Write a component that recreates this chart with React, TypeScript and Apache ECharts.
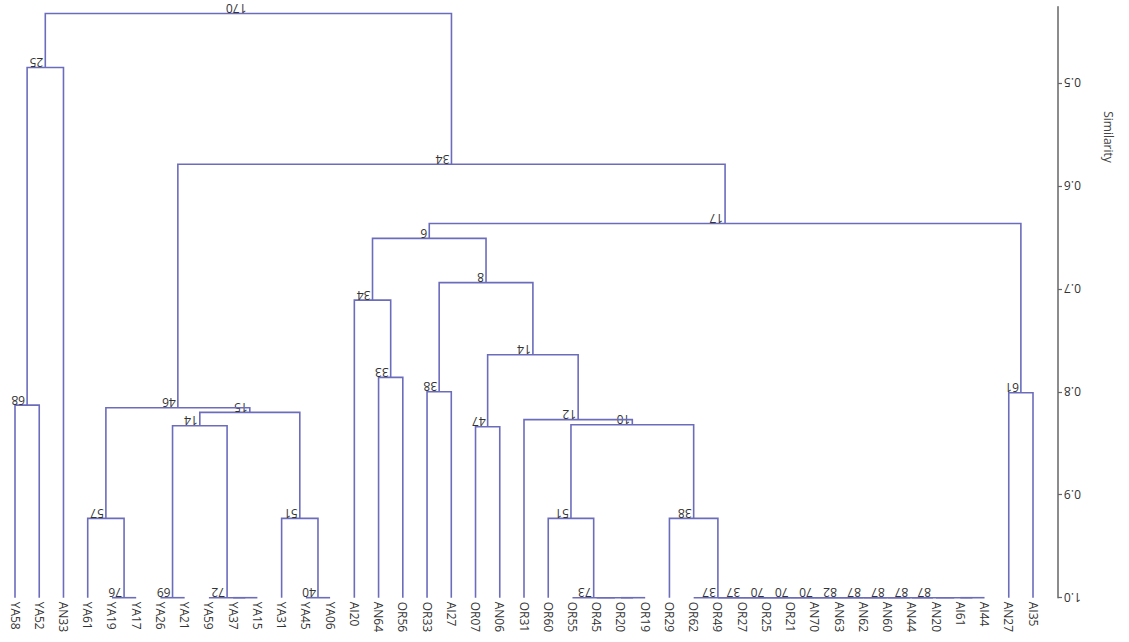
import React, { useEffect, useRef } from "react";
import * as echarts from "echarts";

// Leaf order (bottom tick labels)
const leaves: string[] = [
  "YA58", "YA52", "AN33", "YA61", "YA19", "YA17", "YA26", "YA21", "YA59", "YA37",
  "YA15", "YA31", "YA45", "YA06", "AI20", "AN64", "OR56", "OR33", "AI27", "OR07",
  "AN06", "OR31", "OR60", "OR55", "OR45", "OR20", "OR19", "OR29", "OR62", "OR49",
  "OR27", "OR25", "OR21", "AN70", "AN63", "AN62", "AN60", "AN44", "AN20", "AI61",
  "AI44", "AN27", "AI35",
];

// Merges: [node id, left child, right child, similarity, bootstrap label]
const merges: [string, string, string, number, string][] = [
  ["n1", "YA58", "YA52", 0.813, "68"],
  ["n2", "n1", "AN33", 0.485, "25"],
  ["n3", "YA19", "YA17", 1.0, "76"],
  ["n4", "YA61", "n3", 0.923, "57"],
  ["n5", "YA26", "YA21", 1.0, "69"],
  ["n6", "YA37", "YA15", 1.0, ""],
  ["n7", "YA59", "n6", 1.0, "72"],
  ["n8", "n5", "n7", 0.833, "14"],
  ["n9", "YA45", "YA06", 1.0, "40"],
  ["n10", "YA31", "n9", 0.923, "51"],
  ["n11", "n8", "n10", 0.82, "15"],
  ["n12", "n4", "n11", 0.8155, "46"],
  ["n13", "AN64", "OR56", 0.786, "33"],
  ["n14", "AI20", "n13", 0.711, "34"],
  ["n15", "OR33", "AI27", 0.8, "38"],
  ["n16", "OR07", "AN06", 0.834, "47"],
  ["n17", "OR20", "OR19", 1.0, ""],
  ["n18", "OR45", "n17", 1.0, ""],
  ["n19", "OR55", "n18", 1.0, "73"],
  ["n20", "OR60", "n19", 0.923, "51"],
  ["c12", "AI61", "AI44", 1.0, ""],
  ["c11", "AN20", "c12", 1.0, ""],
  ["c10", "AN44", "c11", 1.0, "87"],
  ["c9", "AN60", "c10", 1.0, "87"],
  ["c8", "AN62", "c9", 1.0, "87"],
  ["c7", "AN63", "c8", 1.0, "87"],
  ["c6", "AN70", "c7", 1.0, "82"],
  ["c5", "OR21", "c6", 1.0, "70"],
  ["c4", "OR25", "c5", 1.0, "70"],
  ["c3", "OR27", "c4", 1.0, "70"],
  ["c2", "OR49", "c3", 1.0, "37"],
  ["c1", "OR62", "c2", 1.0, "37"],
  ["n21", "OR29", "c1", 0.923, "38"],
  ["n22", "n20", "n21", 0.832, "10"],
  ["n23", "OR31", "n22", 0.827, "12"],
  ["n24", "n16", "n23", 0.764, "14"],
  ["n25", "n15", "n24", 0.694, "8"],
  ["n26", "n14", "n25", 0.651, "6"],
  ["n27", "AN27", "AI35", 0.801, "61"],
  ["n28", "n26", "n27", 0.6365, "17"],
  ["n29", "n12", "n28", 0.579, "34"],
  ["n30", "n2", "n29", 0.4326, "170"],
];

const yTicks: number[] = [0.5, 0.6, 0.7, 0.8, 0.9, 1.0];
const yMin = 0.426;
const yMax = 1.0;

const LINE = "#6c6cbd";
const FONT = "'Open Sans', 'DejaVu Sans', sans-serif";

function buildSegments() {
  const pos: Record<string, { x: number; h: number }> = {};
  leaves.forEach((n, i) => (pos[n] = { x: i, h: 1.0 }));
  const values: number[][] = [];
  const labels: string[] = [];
  for (const [id, l, r, h, label] of merges) {
    const a = pos[l];
    const b = pos[r];
    const x = (a.x + b.x) / 2;
    pos[id] = { x, h };
    values.push([a.x, a.h, b.x, b.h, h, x]);
    labels.push(label);
  }
  return { values, labels };
}

export default function App() {
  const ref = useRef<HTMLDivElement>(null);
  useEffect(() => {
    if (!ref.current) return;
    const chart = echarts.init(ref.current, null, { renderer: "svg" });
    const { values, labels } = buildSegments();
    chart.setOption({
      animation: false,
      backgroundColor: "#ffffff",
      grid: { left: 15, right: 96, top: 6.7, bottom: 44.3, containLabel: false, outerBoundsMode: "none" },
      xAxis: [
        {
          type: "category",
          data: leaves,
          boundaryGap: false,
          position: "bottom",
          axisLine: { show: false, onZero: false },
          axisTick: { show: false },
          splitLine: { show: false },
          axisLabel: {
            rotate: -90,
            interval: 0,
            margin: 4,
            color: "#333",
            fontSize: 12,
            fontFamily: FONT,
          },
        },
        { type: "value", min: 0, max: leaves.length - 1, show: false, axisLine: { onZero: false } },
      ],
      yAxis: {
        type: "value",
        inverse: true,
        min: yMin,
        max: yMax,
        position: "right",
        offset: 25,
        splitLine: { show: false },
        axisLine: { show: true, onZero: false, lineStyle: { color: "#666", width: 1.5 } },
        axisTick: { show: true, customValues: yTicks, length: 4, lineStyle: { color: "#666", width: 1.2 } },
        axisLabel: {
          customValues: yTicks,
          formatter: (v: number) => v.toFixed(1),
          rotate: 180,
          margin: 6,
          color: "#333",
          fontSize: 12,
          fontFamily: FONT,
        },
      },
      graphic: [
        {
          type: "text",
          x: 1108,
          y: 137,
          rotation: -Math.PI / 2,
          style: {
            text: "Similarity",
            fill: "#444",
            fontSize: 12,
            fontFamily: FONT,
            align: "center",
            verticalAlign: "middle",
          },
        },
      ],
      series: [
        {
          type: "custom",
          xAxisIndex: 1,
          yAxisIndex: 0,
          clip: false,
          encode: { x: [0, 2, 5], y: [1, 3, 4] },
          data: values,
          renderItem: (params: any, api: any) => {
            const p1 = api.coord([api.value(0), api.value(1)]);
            const p2 = api.coord([api.value(0), api.value(4)]);
            const p3 = api.coord([api.value(2), api.value(4)]);
            const p4 = api.coord([api.value(2), api.value(3)]);
            const m = api.coord([api.value(5), api.value(4)]);
            const label = labels[params.dataIndex];
            return {
              type: "group",
              children: [
                {
                  type: "polyline",
                  shape: { points: [p1, p2, p3, p4] },
                  style: { stroke: LINE, lineWidth: 1.6, fill: "none" },
                },
                {
                  type: "text",
                  x: m[0] - 2,
                  y: m[1] + 1,
                  rotation: Math.PI,
                  style: {
                    text: label,
                    fill: "#333",
                    fontSize: 12,
                    fontFamily: FONT,
                    align: "left",
                    verticalAlign: "top",
                  },
                },
              ],
            };
          },
        },
      ],
    });
    return () => chart.dispose();
  }, []);
  return <div ref={ref} style={{ position: "fixed", left: 0, top: 0, width: 1129, height: 642 }} />;
}
